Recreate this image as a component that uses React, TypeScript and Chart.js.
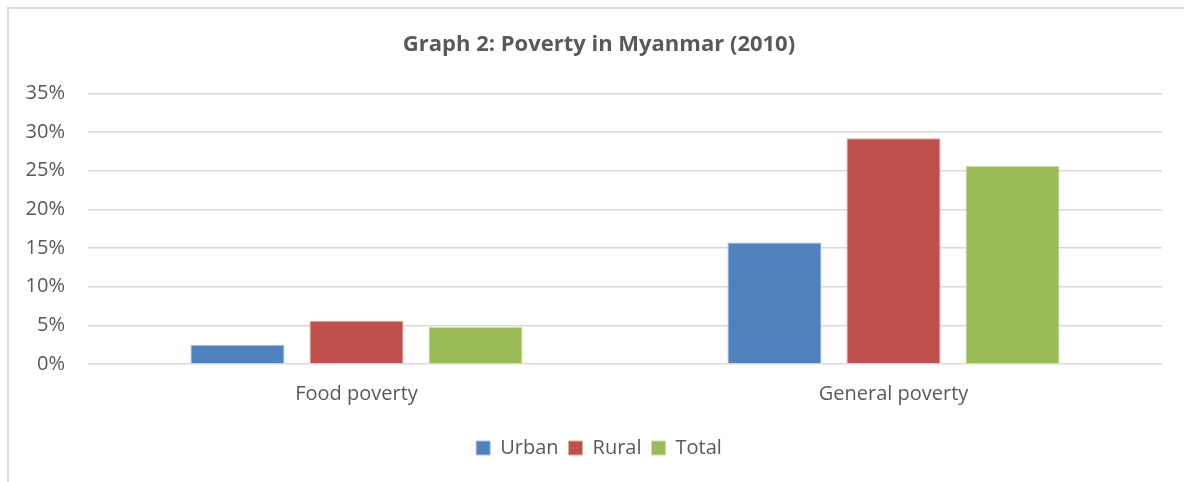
import React, { useEffect, useRef } from "react";
import { Chart, registerables } from "chart.js";

Chart.register(...registerables);

const categories = ["Food poverty", "General poverty"];
const urban = [2.5, 15.7];
const rural = [5.6, 29.2];
const total = [4.8, 25.6];
const yTicks = [0, 5, 10, 15, 20, 25, 30, 35];
const titleText = "Graph 2: Poverty in Myanmar (2010)";

const FONT = "'Open Sans', 'Liberation Sans', sans-serif";
const GRAY = "#595959";

export default function App() {
  const ref = useRef<HTMLCanvasElement | null>(null);

  useEffect(() => {
    if (!ref.current) return;
    const chart = new Chart(ref.current, {
      type: "bar",
      data: {
        labels: categories,
        datasets: [
          { label: "Urban", data: urban, backgroundColor: "#4F81BD", borderColor: "#a7bfdf", borderWidth: 1 },
          { label: "Rural", data: rural, backgroundColor: "#C0504D", borderColor: "#dfa7a6", borderWidth: 1 },
          { label: "Total", data: total, backgroundColor: "#9BBB59", borderColor: "#cddcac", borderWidth: 1 },
        ],
      },
      options: {
        responsive: false,
        animation: false,
        layout: { padding: { left: 0, right: 4, top: 0, bottom: 31 } },
        datasets: { bar: { categoryPercentage: 0.665, barPercentage: 0.79 } },
        plugins: {
          title: {
            display: true,
            text: titleText,
            color: GRAY,
            font: { family: FONT, size: 22, weight: "bold" },
            padding: { top: 23, bottom: 35 },
          },
          legend: {
            position: "bottom",
            labels: {
              color: GRAY,
              font: { family: FONT, size: 20 },
              boxWidth: 14,
              boxHeight: 14,
              padding: 10,
            },
          },
          tooltip: { enabled: false },
        },
        scales: {
          x: {
            grid: { display: false },
            border: { display: false },
            ticks: { color: GRAY, font: { family: FONT, size: 20 }, padding: 10 },
            afterFit: (s: any) => { s.height = 64; },
          },
          y: {
            min: 0,
            max: 35,
            afterBuildTicks: (s: any) => { s.ticks = yTicks.map((v) => ({ value: v })); },
            grid: { color: "#d9d9d9", lineWidth: 1.5, drawTicks: false },
            border: { display: false },
            ticks: {
              color: GRAY,
              font: { family: FONT, size: 20 },
              padding: 23,
              callback: (v: any) => `${v}%`,
            },
            afterFit: (s: any) => { s.width = 79; },
          },
          yRightSpacer: {
            type: "linear",
            position: "right",
            display: true,
            grid: { display: false, drawTicks: false },
            border: { display: false },
            ticks: { display: false },
            afterFit: (s: any) => { s.width = 27; },
          },
        },
      },
    });
    return () => chart.destroy();
  }, []);

  return (
    <div style={{ position: "fixed", inset: 0, overflow: "hidden", background: "#fff" }}>
      <div
        style={{
          position: "absolute",
          left: 7,
          top: 7,
          border: "2px solid #dcdcdc",
          width: 1184,
          height: 490,
        }}
      >
        <canvas ref={ref} width={1184} height={490} style={{ display: "block" }} />
      </div>
    </div>
  );
}
